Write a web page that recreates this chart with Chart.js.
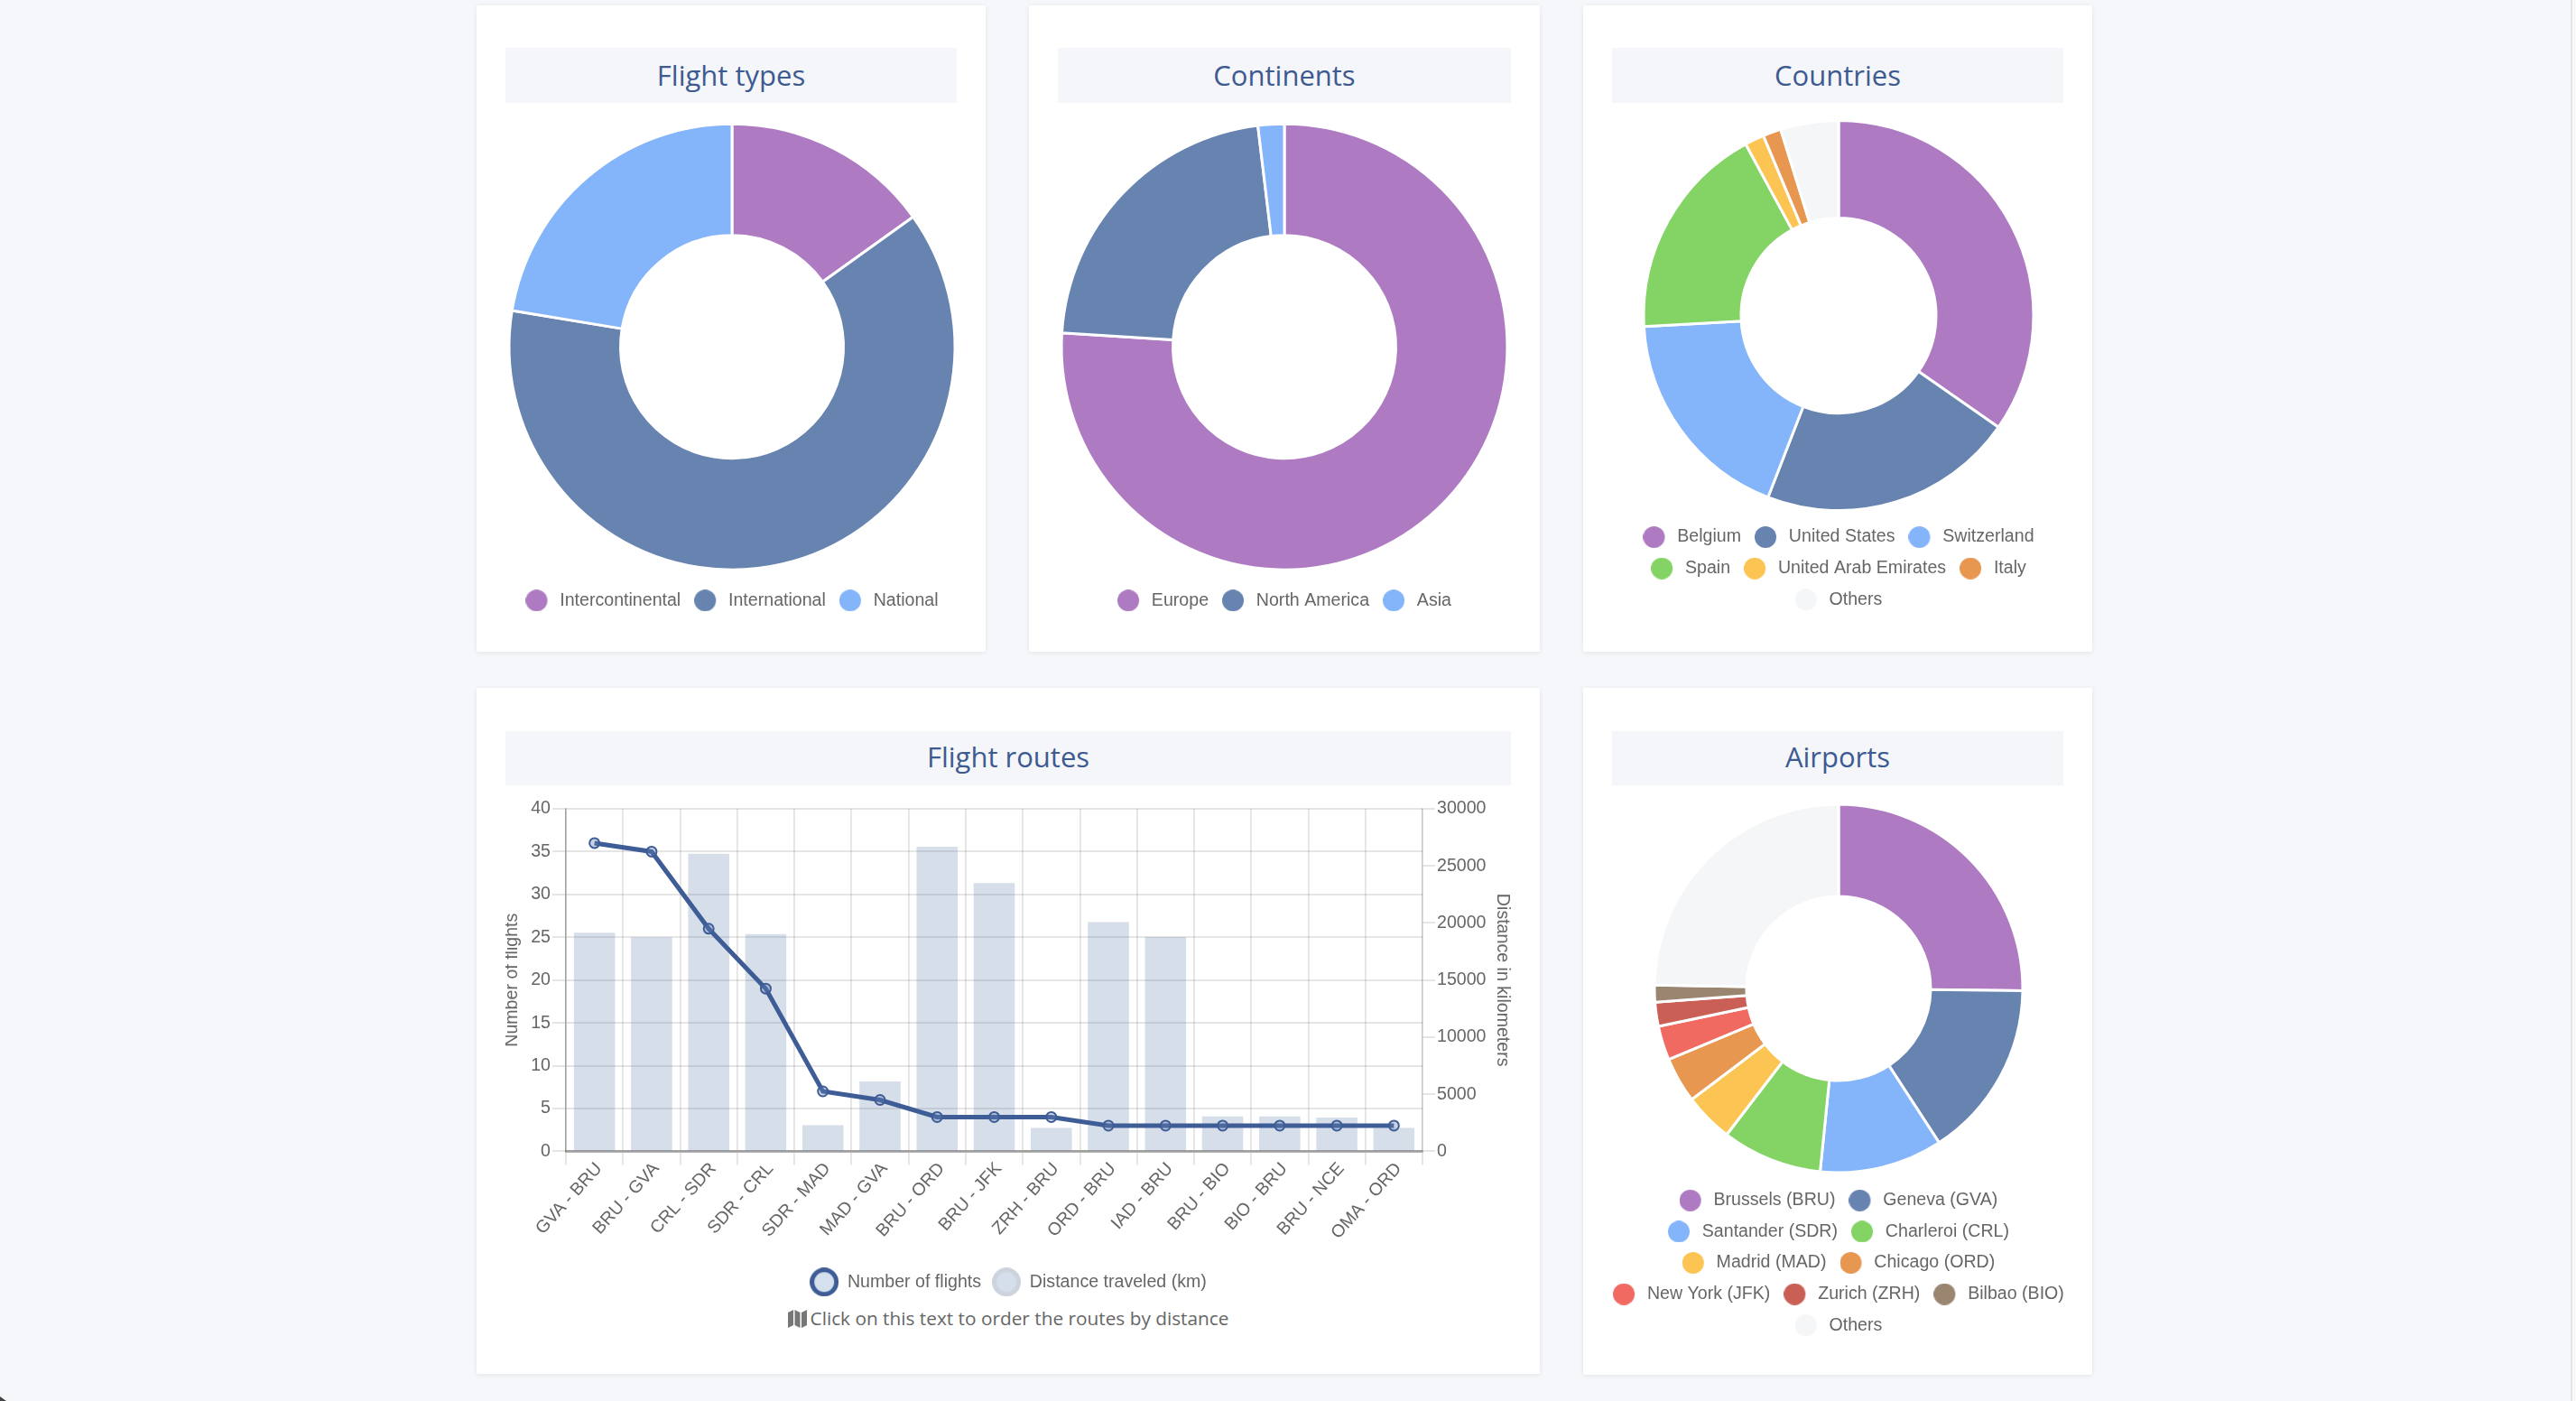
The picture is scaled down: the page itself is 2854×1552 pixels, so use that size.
<!DOCTYPE html>
<html>
<head>
<meta charset="utf-8">
<title>Flight statistics</title>
<script src="https://cdn.jsdelivr.net/npm/chart.js@4/dist/chart.umd.js"></script>
<style>
html, body { margin: 0; padding: 0; background: #f5f7fa; }
body { position: relative; width: 2854px; height: 1552px; overflow: hidden; }
.card { position: absolute; background: #fff; box-shadow: 0 1px 5px rgba(60,70,90,.10); border-radius: 2px; }
.title { position: absolute; background: #f4f6f9; color: #3d5a91; font: 31px/60px "Open Sans", sans-serif; text-align: center; }
canvas { position: absolute; }
.note { position: absolute; left: 560px; width: 1114px; top: 1444px; text-align: center; color: #666; font: 20.8px/32px "Open Sans", sans-serif; }
.note svg { vertical-align: -3px; margin-right: 4px; }
.edge { position: absolute; top: 0; left: 2848px; width: 2px; height: 1552px; background: #e6e6e6; }
.edge2 { position: absolute; top: 0; left: 2850px; width: 4px; height: 1552px; background: #f9f9f9; }
.corner { position: absolute; left: 0; top: 1547px; width: 7px; height: 5px; background: #444; clip-path: polygon(0 0, 100% 100%, 0 100%); }
</style>
</head>
<body>
<div class="edge"></div>
<div class="edge2"></div>
<div class="corner"></div>
<div class="card" style="left:528px;top:6px;width:564px;height:716px"></div>
<div class="card" style="left:1140px;top:6px;width:566px;height:716px"></div>
<div class="card" style="left:1754px;top:6px;width:564px;height:716px"></div>
<div class="card" style="left:528px;top:762px;width:1178px;height:760px"></div>
<div class="card" style="left:1754px;top:762px;width:564px;height:761px"></div>

<div class="title" style="left:560px;top:53px;width:500px;height:61px">Flight types</div>
<div class="title" style="left:1172px;top:53px;width:502px;height:61px">Continents</div>
<div class="title" style="left:1786px;top:53px;width:500px;height:61px">Countries</div>
<div class="title" style="left:560px;top:810px;width:1114px;height:60px;line-height:57px">Flight routes</div>
<div class="title" style="left:1786px;top:810px;width:500px;height:60px;line-height:57px">Airports</div>

<canvas id="typesChart" style="left:543px;top:128px"></canvas>
<canvas id="continentsChart" style="left:1155px;top:128px"></canvas>
<canvas id="countriesChart" style="left:1769px;top:129px"></canvas>
<canvas id="airportsChart" style="left:1769px;top:885px"></canvas>
<canvas id="routesChart" style="left:560px;top:880px"></canvas>

<div class="note"><svg width="21" height="20" viewBox="0 0 21 20"><path fill="#777" d="M0 3l6-3v17l-6 3zM7.500 0l6 3v17l-6-3zM15 3l6-3v17l-6 3z"/></svg>Click on this text to order the routes by distance</div>

<script>
var purple = '#ae7bc2', slate = '#6783b0', sky = '#84b4fa', green = '#84d465', yellow = '#fcc452';
var orange = '#e79750', coral = '#f16a62', brick = '#c95f55', brown = '#9a8570', others = '#f4f6f8';

var typeLabels = ['Intercontinental', 'International', 'National'];
var typeValues = [15.1, 62.5, 22.4];

var continentLabels = ['Europe', 'North America', 'Asia'];
var continentValues = [76.0, 22.1, 1.9];

var countryLabels = ['Belgium', 'United States', 'Switzerland', 'Spain', 'United Arab Emirates', 'Italy', 'Others'];
var countryValues = [34.7, 21.2, 18.2, 18.0, 1.6, 1.5, 4.8];

var airportLabels = ['Brussels (BRU)', 'Geneva (GVA)', 'Santander (SDR)', 'Charleroi (CRL)', 'Madrid (MAD)',
    'Chicago (ORD)', 'New York (JFK)', 'Zurich (ZRH)', 'Bilbao (BIO)', 'Others'];
var airportValues = [25.2, 15.6, 10.8, 8.8, 4.3, 4.0, 3.0, 2.1, 1.5, 24.7];

var routeLabels = ['GVA - BRU', 'BRU - GVA', 'CRL - SDR', 'SDR - CRL', 'SDR - MAD', 'MAD - GVA', 'BRU - ORD', 'BRU - JFK',
    'ZRH - BRU', 'ORD - BRU', 'IAD - BRU', 'BRU - BIO', 'BIO - BRU', 'BRU - NCE', 'OMA - ORD'];
var routeFlights = [36, 35, 26, 19, 7, 6, 4, 4, 4, 3, 3, 3, 3, 3, 3];
var routeDistances = [19150, 18750, 26070, 19020, 2290, 6120, 26680, 23490, 2050, 20080, 18780, 3060, 3060, 2950, 2050];

var airportColors = [purple, slate, sky, green, yellow, orange, coral, brick, brown, others];
var countryColors = [purple, slate, sky, green, yellow, orange, others];
var labelColor = '#666';
var labelFont = { family: '"Liberation Sans", Arial, sans-serif', size: 19.6 };

Chart.defaults.animation = false;
Chart.defaults.color = labelColor;
Chart.defaults.font.family = labelFont.family;
Chart.defaults.font.size = 19.6;

// legend dot, drawn left in a box so the label keeps the same gap as the original
function legendDot(fill, stroke, size, boxWidth, lineWidth) {
    var dot = document.createElement('canvas');
    dot.width = boxWidth;
    dot.height = size;
    var ctx = dot.getContext('2d');
    ctx.beginPath();
    ctx.arc(size / 2, size / 2, size / 2 - (lineWidth || 0) / 2, 0, Math.PI * 2);
    ctx.fillStyle = fill;
    ctx.fill();
    if (lineWidth) {
        ctx.strokeStyle = stroke;
        ctx.lineWidth = lineWidth;
        ctx.stroke();
    }
    return dot;
}

function sizeCanvas(id, width, height) {
    var canvas = document.getElementById(id);
    canvas.width = width;
    canvas.height = height;
    canvas.style.width = width + 'px';
    canvas.style.height = height + 'px';
    return canvas;
}

function makeDoughnut(id, height, radius, labels, values, sliceColors) {
    return new Chart(sizeCanvas(id, 536, height), {
        type: 'doughnut',
        data: {
            labels: labels,
            datasets: [{
                data: values,
                backgroundColor: sliceColors,
                borderColor: '#fff',
                borderWidth: 3,
                radius: radius,
                cutout: '50%'
            }]
        },
        options: {
            responsive: false,
            maintainAspectRatio: false,
            plugins: {
                tooltip: { enabled: false },
                legend: {
                    position: 'bottom',
                    labels: {
                        usePointStyle: true,
                        pointStyleWidth: 28,
                        padding: 15,
                        font: labelFont,
                        color: labelColor,
                        generateLabels: function() {
                            return labels.map(function(text, i) {
                                return {
                                    text: text,
                                    fontColor: labelColor,
                                    fillStyle: sliceColors[i],
                                    strokeStyle: sliceColors[i],
                                    lineWidth: 0,
                                    pointStyle: legendDot(sliceColors[i], sliceColors[i], 24, 28),
                                    index: i
                                };
                            });
                        }
                    }
                }
            }
        }
    });
}

makeDoughnut('typesChart', 557, 247, typeLabels, typeValues, [purple, slate, sky]);
makeDoughnut('continentsChart', 557, 247, continentLabels, continentValues, [purple, slate, sky]);
makeDoughnut('countriesChart', 555, 216, countryLabels, countryValues, countryColors);
makeDoughnut('airportsChart', 603, 204, airportLabels, airportValues, airportColors);

var lineBlue = '#3e5c96';
var barFill = 'rgba(60,100,150,0.21)';

new Chart(sizeCanvas('routesChart', 1114, 560), {
    data: {
        labels: routeLabels,
        datasets: [
            {
                type: 'line',
                label: 'Number of flights',
                data: routeFlights,
                yAxisID: 'flights',
                order: 1,
                tension: 0,
                fill: false,
                borderColor: lineBlue,
                borderWidth: 5,
                pointRadius: 5.5,
                pointBorderWidth: 2,
                pointBorderColor: lineBlue,
                pointBackgroundColor: 'rgba(100,130,180,0.35)'
            },
            {
                type: 'bar',
                label: 'Distance traveled (km)',
                data: routeDistances,
                yAxisID: 'distance',
                order: 2,
                backgroundColor: barFill,
                barPercentage: 0.8,
                categoryPercentage: 0.9
            }
        ]
    },
    options: {
        responsive: false,
        maintainAspectRatio: false,
        layout: { padding: { top: 16 } },
        plugins: {
            tooltip: { enabled: false },
            legend: {
                position: 'bottom',
                labels: {
                    usePointStyle: true,
                    pointStyleWidth: 32,
                    padding: 12,
                    font: labelFont,
                    color: labelColor,
                    generateLabels: function() {
                        return [
                            { text: 'Number of flights', fontColor: labelColor, fillStyle: '#d5e0ee', strokeStyle: lineBlue, lineWidth: 0,
                              pointStyle: legendDot('#d5e0ee', lineBlue, 32, 32, 5), datasetIndex: 0 },
                            { text: 'Distance traveled (km)', fontColor: labelColor, fillStyle: '#d5dfeb', strokeStyle: '#cdd3dc', lineWidth: 0,
                              pointStyle: legendDot('#d5dfeb', '#cdd3dc', 32, 32, 5), datasetIndex: 1 }
                        ];
                    }
                }
            }
        },
        scales: {
            x: {
                afterFit: function(scale) { scale.height = 123; },
                grid: {
                    offset: true,
                    color: 'rgba(0,0,0,0.11)',
                    lineWidth: 1.8,
                    tickLength: 15
                },
                border: { color: 'rgba(0,0,0,0.3)', width: 3 },
                ticks: {
                    minRotation: 48,
                    maxRotation: 48,
                    autoSkip: false,
                    padding: -7,
                    labelOffset: 5,
                    font: labelFont
                }
            },
            flights: {
                position: 'left',
                min: 0,
                max: 40,
                afterFit: function(scale) { scale.width = 67; },
                title: { display: true, text: 'Number of flights', color: labelColor, font: labelFont, padding: { top: -4, bottom: 0 } },
                grid: {
                    color: 'rgba(0,0,0,0.1)',
                    lineWidth: 2,
                    tickLength: 15
                },
                border: { color: 'rgba(0,0,0,0.3)', width: 1.5 },
                ticks: { stepSize: 5, padding: 2, font: labelFont }
            },
            distance: {
                position: 'right',
                min: 0,
                max: 30000,
                afterFit: function(scale) { scale.width = 98; },
                title: { display: true, text: 'Distance in kilometers', color: labelColor, font: labelFont, padding: { top: -2, bottom: 0 } },
                grid: {
                    drawOnChartArea: false,
                    color: 'rgba(0,0,0,0.1)',
                    lineWidth: 2,
                    tickLength: 14
                },
                border: { color: 'rgba(0,0,0,0.12)', width: 1.5 },
                ticks: {
                    stepSize: 5000,
                    padding: 2,
                    font: labelFont,
                    callback: function(value) { return String(value); }
                }
            }
        }
    }
});
</script>
</body>
</html>
